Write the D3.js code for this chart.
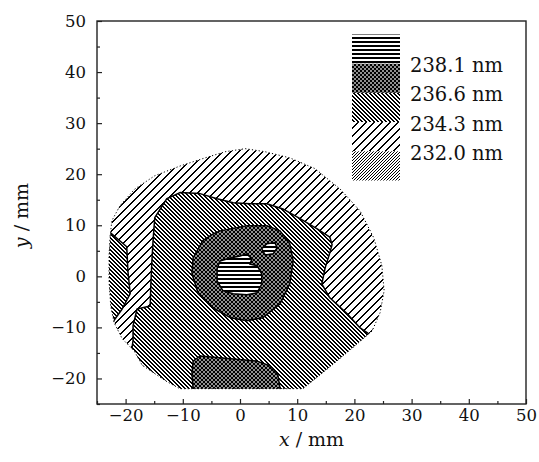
<!DOCTYPE html>
<html>
<head>
<meta charset="utf-8">
<script src="https://cdn.jsdelivr.net/npm/d3@7/dist/d3.min.js"></script>
<style>
  html, body { margin: 0; padding: 0; background: #fff; }
  svg { display: block; }
  text { font-family: "DejaVu Serif", "Liberation Serif", serif; fill: #111; }
</style>
</head>
<body>
<div id="chart"></div>
<script>
// ---------- data ----------
const xTicks = [-20, -10, 0, 10, 20, 30, 40, 50];
const yTicks = [-20, -10, 0, 10, 20, 30, 40, 50];
const minorTicks = [-25, -15, -5, 5, 15, 25, 35, 45];
const levelLabels = ["238.1 nm", "236.6 nm", "234.3 nm", "232.0 nm"];
const legendPatterns = ["pHoriz", "pCross", "pBack", "pSparse", "pDenseFwd"];

// outer boundary of the measured disk (x, y in mm)
const disk = [[-22.7,7.9],[-22.4,10.9],[-21.0,13.8],[-18.4,17.1],[-14.9,19.7],[-10.5,21.6],[-6.1,23.2],[-2.6,24.4],[0.9,25.0],[4.4,24.4],[8.7,23.2],[13.1,21.1],[17.5,17.1],[21.0,12.8],[23.4,7.5],[24.8,2.1],[25.2,-2.8],[24.5,-7.1],[23.1,-10.7],[20.1,-13.6],[16.6,-16.9],[13.1,-20.1],[11.0,-22.0],[-10.5,-22.0],[-12.8,-20.6],[-17.1,-17.4],[-18.5,-14.6],[-20.6,-12.2],[-22.0,-9.1],[-22.6,-5.8],[-22.9,-0.9],[-22.9,4.0]];
// 234.3 - 236.6 nm zone (main), points outside the disk are clipped
const bandMain = [[-15.2,7.0],[-14.9,11.5],[-12.8,15.2],[-10.5,16.4],[-7.0,16.2],[-4.0,15.2],[-1.2,14.4],[1.7,14.2],[4.7,14.2],[7.5,13.2],[10.5,11.3],[13.5,9.3],[15.7,7.7],[16.1,6.2],[15.7,4.6],[14.9,1.7],[14.3,-1.5],[15.7,-4.2],[18.7,-7.3],[21.0,-10.1],[23.5,-12.0],[27,-14],[14,-27],[-11,-27],[-21,-17],[-18.9,-14.2],[-18.7,-12.6],[-18.7,-9.7],[-18.0,-6.4],[-15.7,-5.8],[-15.6,-1.9],[-15.4,3.0]];
// 234.3 - 236.6 nm zone (left edge strip)
const bandLeft = [[-24.6,10.4],[-19.8,5.8],[-19.6,1.1],[-19.2,-3.4],[-20.6,-6.4],[-22.2,-8.9],[-23.4,-10.8],[-27,-11],[-27,10.4]];
// 236.6 - 238.1 nm zones
const ringInner = [[-3.5,8.9],[1.2,9.9],[4.7,9.9],[7.0,8.9],[8.7,6.4],[9.3,3.0],[8.7,-1.5],[7.0,-5.4],[4.0,-8.1],[1.2,-8.7],[-1.7,-8.1],[-4.7,-6.2],[-7.3,-3.4],[-8.4,0.5],[-8.2,3.6],[-6.5,7.0],[-4.7,8.3]];
const patchBottom = [[-8.4,-19.1],[-8.2,-16.6],[-7.0,-15.6],[3.0,-16.6],[5.2,-17.5],[6.6,-19.1],[7.0,-22.0],[7.1,-26],[-8.3,-26],[-8.2,-22.0]];
// > 238.1 nm zones
const topCenter = [[-4.0,1.5],[-3.5,3.0],[-1.7,3.6],[0.0,4.0],[1.2,4.4],[2.1,3.4],[1.7,2.4],[3.0,2.1],[3.8,0.5],[3.8,-1.5],[3.0,-3.2],[1.2,-3.6],[-1.2,-3.4],[-3.0,-2.8],[-4.0,-0.9]];
const topSmall = [[3.8,5.4],[4.7,6.4],[6.1,6.6],[6.5,5.6],[5.8,4.4],[4.4,4.2]];

// ---------- layout ----------
const W = 539, H = 462;
const m = { left: 97, right: 13, top: 21, bottom: 58 };
const iw = W - m.left - m.right, ih = H - m.top - m.bottom;

const svg = d3.select("#chart").append("svg").attr("width", W).attr("height", H);
const defs = svg.append("defs");

// pixel-aligned diagonal hatch: n x n tile, k black pixels per row
function pixelDiag(id, n, k, forward) {
  const p = defs.append("pattern").attr("id", id).attr("patternUnits", "userSpaceOnUse")
    .attr("width", n).attr("height", n);
  p.append("rect").attr("width", n).attr("height", n).attr("fill", "#fff");
  for (let r = 0; r < n; r++) {
    for (let j = 0; j < k; j++) {
      const c = forward ? ((n - 1 - r + j) % n + n) % n : (r + j) % n;
      p.append("rect").attr("x", c).attr("y", r).attr("width", 1).attr("height", 1)
        .attr("fill", "#000").attr("shape-rendering", "crispEdges");
    }
  }
}
pixelDiag("pSparse", 8, 2, true);
pixelDiag("pBack", 4, 2, false);
pixelDiag("pDenseFwd", 3, 1, true);
{
  const p = defs.append("pattern").attr("id", "pHoriz").attr("patternUnits", "userSpaceOnUse")
    .attr("width", 4).attr("height", 4);
  p.append("rect").attr("width", 4).attr("height", 4).attr("fill", "#fff");
  p.append("rect").attr("y", 1).attr("width", 4).attr("height", 2).attr("fill", "#000")
    .attr("shape-rendering", "crispEdges");
}
{
  const p = defs.append("pattern").attr("id", "pCross").attr("patternUnits", "userSpaceOnUse")
    .attr("width", 4).attr("height", 4);
  p.append("rect").attr("width", 4).attr("height", 4).attr("fill", "#000");
  p.append("rect").attr("x", 0.25).attr("y", 0.25).attr("width", 1.5).attr("height", 1.5).attr("fill", "#fff");
  p.append("rect").attr("x", 2.25).attr("y", 2.25).attr("width", 1.5).attr("height", 1.5).attr("fill", "#fff");
}

const x = d3.scaleLinear().domain([-25, 50]).range([0, iw]);
const y = d3.scaleLinear().domain([-25, 50]).range([ih, 0]);
const g = svg.append("g").attr("transform", `translate(${m.left},${m.top})`);

const poly = d3.line().x(d => x(d[0])).y(d => y(d[1])).curve(d3.curveLinearClosed);

defs.append("clipPath").attr("id", "diskClip").append("path").attr("d", poly(disk));

const plot = g.append("g").attr("clip-path", "url(#diskClip)");
plot.append("path").attr("d", poly(disk)).attr("fill", "url(#pSparse)");
[[bandLeft, "pBack"], [bandMain, "pBack"], [ringInner, "pCross"], [patchBottom, "pCross"],
 [topCenter, "pHoriz"], [topSmall, "pHoriz"]].forEach(([pts, pat]) => {
  plot.append("path").attr("d", poly(pts)).attr("fill", `url(#${pat})`)
    .attr("stroke", "#000").attr("stroke-width", 1.5).attr("stroke-linejoin", "round");
});
g.append("path").attr("d", poly(disk)).attr("fill", "none").attr("stroke", "#000")
  .attr("stroke-width", 1).attr("stroke-dasharray", "1.2,2.2");

// ---------- axes ----------
g.append("g").attr("transform", `translate(0,${ih})`)
  .call(d3.axisBottom(x).tickValues(xTicks).tickSize(-5).tickPadding(5));
g.append("g").attr("transform", `translate(0,${ih})`)
  .call(d3.axisBottom(x).tickValues(minorTicks).tickSize(-3).tickFormat(""));
g.append("g").call(d3.axisLeft(y).tickValues(yTicks).tickSize(-5).tickPadding(11));
g.append("g").call(d3.axisLeft(y).tickValues(minorTicks).tickSize(-3).tickFormat(""));
g.selectAll(".domain").remove();
g.selectAll(".tick line").attr("stroke", "#222").attr("stroke-width", 1.2);
g.selectAll(".tick text").style("font-family", '"DejaVu Serif", serif').style("font-size", "16.5px").attr("fill", "#111");
g.append("rect").attr("width", iw).attr("height", ih).attr("fill", "none")
  .attr("stroke", "#222").attr("stroke-width", 1.4);

// axis titles
const xt = svg.append("text").attr("x", m.left + iw / 2).attr("y", 446).attr("text-anchor", "middle")
  .style("font-size", "19px");
xt.append("tspan").attr("font-style", "italic").text("x");
xt.append("tspan").text(" / mm");
const yt = svg.append("text").attr("transform", `translate(28,${m.top + ih / 2 + 3}) rotate(-90)`)
  .attr("text-anchor", "middle").style("font-size", "19px");
yt.append("tspan").attr("font-style", "italic").text("y");
yt.append("tspan").text(" / mm");

// ---------- legend ----------
const lx = 352, ly = 34.5, lw = 48, lh = 29.2;
const leg = svg.append("g");
legendPatterns.forEach((p, i) => {
  leg.append("rect").attr("x", lx).attr("y", ly + i * lh).attr("width", lw).attr("height", lh)
    .attr("fill", `url(#${p})`);
});
levelLabels.forEach((t, i) => {
  leg.append("text").attr("x", 410).attr("y", ly + (i + 1) * lh + 2).attr("dominant-baseline", "central")
    .style("font-size", "19.5px").text(t);
});
</script>
</body>
</html>
